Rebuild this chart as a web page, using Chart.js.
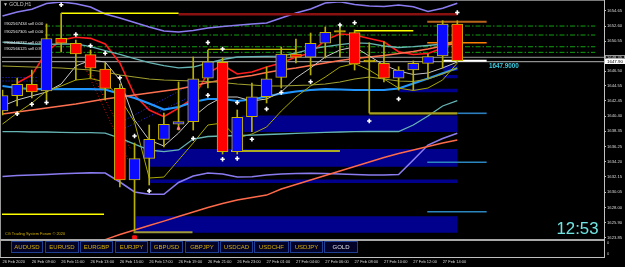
<!DOCTYPE html>
<html><head><meta charset="utf-8">
<script src="https://cdn.jsdelivr.net/npm/chart.js@4.4.1/dist/chart.umd.min.js"></script>
<style>
html,body{margin:0;padding:0;background:#000;overflow:hidden;}
#wrap{position:relative;width:625px;height:267px;background:#000;}
#c{position:absolute;left:0;top:0;}
.t{position:absolute;white-space:nowrap;transform-origin:0 0;transform:scale(0.5);font-family:"Liberation Sans",Arial,sans-serif;line-height:1;}
.ln{position:absolute;}
.btn{position:absolute;top:241px;height:12px;box-sizing:border-box;border:1px solid #1f3f93;background:#03032a;overflow:hidden;}
.btn div{position:absolute;left:0;top:0;width:200%;height:200%;transform-origin:0 0;transform:scale(0.5);display:flex;align-items:center;justify-content:center;font-family:"Liberation Sans",Arial,sans-serif;font-size:12px;color:#d8b000;}
</style></head>
<body><div id="wrap"><canvas id="c" width="625" height="267"></canvas></div>
<script>
// ---------- data (prices) ----------
const CANDLE_OPEN  = [1641.08,1643.16,1644.70,1643.80,1650.95,1650.27,1648.72,1646.78,1644.16,1631.72,1634.66,1637.24,1639.28,1639.63,1645.52,1647.69,1635.56,1640.31,1643.02,1645.65,1648.82,1648.37,1650.27,1651.78,1651.71,1647.79,1647.55,1645.52,1646.64,1647.55,1648.54,1652.89];
const CANDLE_HIGH  = [1643.93,1645.56,1646.64,1652.89,1654.34,1650.71,1649.36,1647.59,1644.74,1636.74,1639.18,1640.81,1645.02,1648.41,1649.36,1648.27,1641.22,1644.88,1647.05,1649.77,1650.85,1651.66,1652.48,1652.48,1652.07,1650.35,1650.48,1647.09,1647.87,1648.82,1653.33,1653.33];
const CANDLE_LOW   = [1640.54,1641.76,1642.85,1642.57,1649.09,1645.29,1645.56,1642.57,1630.77,1624.80,1631.04,1636.20,1638.50,1638.50,1644.20,1635.24,1635.24,1638.27,1642.17,1644.20,1647.59,1645.97,1648.27,1648.41,1646.64,1640.81,1645.02,1643.93,1643.93,1645.56,1646.92,1647.73];
const CANDLE_CLOSE = [1643.18,1644.70,1643.66,1650.92,1650.27,1648.82,1646.88,1644.16,1631.72,1634.61,1637.24,1639.28,1639.63,1645.46,1647.77,1635.56,1640.23,1643.02,1645.46,1648.82,1648.37,1650.27,1651.76,1651.78,1647.46,1647.79,1645.52,1646.64,1647.55,1648.45,1652.89,1647.90];

const X_TICK_IDX = [0,2,4,6,8,10,12,14,16,18,20,22,24,26,28,30];
const X_TICK_LABELS = ["26 Feb 2020","26 Feb 09:00","26 Feb 11:00","26 Feb 13:00","26 Feb 15:00","26 Feb 17:00","26 Feb 19:00","26 Feb 21:00","26 Feb 23:00","27 Feb 01:00","27 Feb 04:00","27 Feb 06:00","27 Feb 08:00","27 Feb 10:00","27 Feb 12:00","27 Feb 14:00"];
const Y_TICKS = [1654.65,1652.60,1650.55,1646.50,1644.55,1642.45,1640.40,1638.35,1636.25,1634.20,1632.15,1630.05,1628.00,1625.90,1623.85];

const BAND_UPPER = [1653.97,1654.51,1654.88,1655.67,1655.87,1655.64,1655.19,1654.24,1653.70,1653.09,1652.48,1651.94,1651.80,1652.00,1652.34,1652.55,1652.72,1652.89,1653.02,1653.70,1654.38,1654.92,1655.74,1655.91,1655.53,1655.33,1655.26,1655.46,1655.23,1654.58,1655.02,1655.69];
const BAND_LOWER = [1632.19,1632.33,1632.39,1632.46,1632.56,1632.63,1632.69,1632.67,1631.45,1630.09,1629.78,1629.78,1631.38,1632.26,1632.67,1632.53,1632.12,1632.17,1632.39,1632.53,1632.60,1632.63,1632.60,1632.53,1632.46,1632.39,1632.39,1632.46,1634.43,1636.46,1637.35,1638.05];
const ENV_UPPER = [1650.44,1650.31,1650.17,1650.13,1650.17,1650.20,1649.83,1649.29,1648.75,1648.20,1647.66,1647.23,1646.92,1647.05,1647.59,1648.07,1648.41,1648.45,1648.48,1648.52,1648.95,1649.49,1649.83,1650.10,1650.33,1650.27,1649.90,1649.70,1649.81,1649.97,1650.17,1650.44];
const ENV_LOWER = [1638.27,1638.27,1638.23,1638.23,1638.19,1638.16,1638.16,1638.09,1637.41,1636.60,1635.79,1635.56,1635.79,1637.28,1637.62,1637.69,1637.76,1637.82,1637.89,1637.96,1638.05,1638.12,1638.19,1638.23,1638.27,1638.30,1638.30,1638.30,1639.18,1640.40,1641.76,1642.48];
const MA_BLUE = [1644.47,1644.20,1644.06,1644.06,1644.06,1644.06,1644.06,1644.00,1643.39,1642.84,1642.10,1641.28,1641.62,1642.30,1642.71,1642.71,1642.44,1642.64,1643.05,1643.45,1643.73,1643.93,1644.06,1644.00,1643.93,1643.93,1643.93,1644.13,1644.81,1645.49,1646.20,1646.88];
const MA_RED = [null,1644.88,1645.97,1649.09,1650.71,1651.08,1650.94,1650.17,1647.59,1643.25,1641.21,1640.31,1641.49,1642.84,1646.24,1647.32,1646.10,1646.37,1647.05,1647.59,1648.41,1648.95,1650.71,1651.53,1651.39,1650.92,1650.48,1649.13,1648.75,1648.88,1649.63,1650.99];
const MA_SALMON = [1640.67,1640.94,1641.21,1641.49,1641.76,1642.03,1642.37,1642.71,1642.98,1643.25,1643.52,1643.79,1644.06,1644.47,1644.95,1645.29,1645.63,1645.90,1646.30,1646.64,1646.92,1647.25,1647.59,1647.93,1648.20,1648.41,1648.61,1648.88,1649.15,1649.49,1649.90,1650.31];
const TREND_LOW = [null,null,null,null,null,null,1623.03,1623.64,1624.32,1624.93,1625.54,1626.15,1626.77,1627.38,1627.99,1628.53,1629.00,1629.34,1629.68,1630.50,1631.11,1631.72,1632.33,1632.94,1633.55,1634.16,1634.77,1635.31,1635.79,1636.26,1636.74,1637.14];
const MA_GREY = [1641.76,1642.57,1643.12,1643.66,1644.74,1647.19,1648.00,1647.73,1645.29,1639.86,1637.14,1636.33,1638.09,1640.27,1641.89,1642.98,1642.98,1642.44,1642.71,1643.66,1645.56,1646.92,1648.41,1649.36,1649.77,1648.54,1647.32,1646.51,1646.03,1646.24,1646.92,1647.73];
const LINE_OLIVE_FAST = [1639.31,1640.81,1642.16,1643.79,1644.47,1645.29,1645.49,1645.02,1642.84,1639.59,1631.99,1632.12,1634.43,1636.74,1639.18,1639.45,1637.41,1637.96,1638.91,1641.08,1642.98,1644.47,1645.69,1647.05,1647.53,1646.64,1645.42,1644.20,1643.86,1644.20,1645.29,1647.59];
const LINE_OLIVE_SLOW = [1647.19,1647.12,1647.05,1646.98,1646.92,1646.78,1646.64,1646.37,1645.97,1645.69,1645.42,1645.29,1645.22,1645.15,1645.08,1644.95,1644.74,1644.61,1644.47,1644.47,1644.54,1644.61,1644.74,1645.02,1645.42,1645.69,1645.42,1645.15,1645.08,1645.42,1646.10,1646.92];

const FRACTAL_IDX   = [4,5,6,7,8,1,2,3,9,10,13,14,14,15,15,16,16,17,18,19,21,23,24,25,27,31];
const FRACTAL_PRICE = [1655.50,1651.46,1649.94,1648.91,1645.60,1640.71,1641.99,1642.23,1637.69,1630.23,1637.35,1643.21,1650.38,1649.49,1634.53,1642.23,1634.64,1637.24,1641.35,1643.59,1645.06,1652.75,1653.06,1639.72,1642.71,1654.45];
const ARROW_IDX = [12], ARROW_PRICE = [1638.73];
const MARK_IDX = [9], MARK_PRICE = [1623.90];

const LEVEL_PRICE = [1654.34,1654.20,1651.98,1649.43,1635.65,1627.06,1624.62,1640.77,1640.77,1653.20,1650.35,1634.12,1627.42,1647.90,1648.37,1647.77];
const LEVEL_FROM  = [4,12,24,14,15.58,-0.2,8.93,25,31,28.95,28.95,28.95,28.95,30.05,-1,-1];
const LEVEL_TO    = [12,31,28,20,23,6.92,12.95,31,33,33,33,33,33,33,42,42];

const ORDER_PRICE = [1652.61,1651.39,1649.80,1649.04];
const ORDER_FROM = 2.9, ORDER_TO = 40.4;
const ORDER_LABELS = ["#902567434 sell 0.00","#902567305 sell 0.00","#900446232 sell 0.9","#902566125 sell 0.9"];

const ZONE_TOP    = [1640.47,1635.92,1631.79,1626.79,1644.11,1647.25,1645.97];
const ZONE_BOTTOM = [1638.23,1633.52,1631.31,1624.57,1643.62,1646.51,1645.52];
const ZONE_FROM   = [16.3,10,10,9,27,30,30];
const ZONE_TO     = [31,31,31,31,31,31,31];

const DOT_X0 = [8.35,8.35,5.49,5.96,-0.2,-0.2], DOT_Y0 = [1639.86,1638.77,1647.59,1646.64,1645.63,1645.15];
const DOT_X1 = [12.6,12.6,8.56,8.76,2.4,2.4],  DOT_Y1 = [1644.38,1642.84,1634.43,1635.79,1645.63,1645.15];

const CURRENT_PRICE = "1647.9000", ASK_LABEL = "1648.35", BID_LABEL = "1647.90";
const SYMBOLS = ["AUDUSD","EURUSD","EURGBP","EURJPY","GBPUSD","GBPJPY","USDCAD","USDCHF","USDJPY","GOLD"];
const CLOCK = "12:53";

// ---------- styles ----------
const LEVEL_STYLE = [["#ffff00",1.4],["#8b1010",2.6],["#ffff00",1.4],["#b4b400",1.2],["#e6e600",1.4],["#ffff00",1.5],["#a09a3a",2],["#a8a020",2.2],["#2b7fc0",1.6],["#b8651b",2],["#ff8000",1.6],["#2b86c0",1.4],["#2b86c0",1.4],["#ffffff",2],["#9a9a9a",1],["#b4b4b4",1]];
const DOT_COLOR = ["#2a2aff","#2a2aff","#d01010","#d01010","#2a2aff","#2a2aff"];

const X_MIN = -0.034, X_MAX = 40.999;
const Y_MIN = 1623.714, Y_MAX = 1655.871;

const pts = arr => arr.map((v,i)=> v==null?null:{x:i,y:v}).filter(p=>p);
const ds = [];
ZONE_TOP.forEach((t,k)=>ds.push({type:'line',data:[{x:ZONE_FROM[k],y:t},{x:ZONE_TO[k],y:t}],borderColor:'rgba(0,0,0,0)',borderWidth:1,pointRadius:0,fill:{value:ZONE_BOTTOM[k]},backgroundColor:'#00008c',order:30}));
DOT_X0.forEach((x,k)=>ds.push({type:'line',data:[{x:x,y:DOT_Y0[k]},{x:DOT_X1[k],y:DOT_Y1[k]}],borderColor:DOT_COLOR[k],borderWidth:1,borderDash:[1,2],pointRadius:0,fill:false,order:26}));
LEVEL_PRICE.forEach((p,k)=>ds.push({type:'line',data:[{x:LEVEL_FROM[k],y:p},{x:LEVEL_TO[k],y:p}],borderColor:LEVEL_STYLE[k][0],borderWidth:LEVEL_STYLE[k][1],pointRadius:0,fill:false,order:k>=14?28:18}));
ORDER_PRICE.forEach(p=>ds.push({type:'line',data:[{x:ORDER_FROM,y:p},{x:ORDER_TO,y:p}],borderColor:'#12a012',borderWidth:1,borderDash:[5,2,1.5,2],pointRadius:0,fill:false,order:24}));
const lineDs = (arr,color,w)=>({type:'line',data:pts(arr),borderColor:color,borderWidth:w,pointRadius:0,fill:false,tension:0,order:20});
ds.push(lineDs(TREND_LOW,'#ff6a4a',1.4));
ds.push(lineDs(BAND_UPPER,'#8a7cf0',1.6));
ds.push(lineDs(BAND_LOWER,'#8a7cf0',1.6));
ds.push(lineDs(ENV_UPPER,'#66b4b4',1.3));
ds.push(lineDs(ENV_LOWER,'#66b4b4',1.3));
ds.push(lineDs(LINE_OLIVE_SLOW,'#a0a030',1.1));
ds.push(lineDs(LINE_OLIVE_FAST,'#a8a800',1));
ds.push(lineDs(MA_GREY,'#c8c8c8',1));
ds.push(lineDs(MA_SALMON,'#ff7050',1.4));
ds.push(lineDs(MA_BLUE,'#2296ff',2.2));
ds.push(lineDs(MA_RED,'#ff1c1c',1.6));
const idx = CANDLE_OPEN.map((_,i)=>i);
ds.push({type:'bar',data:idx.map(i=>({x:i,y:[CANDLE_LOW[i],CANDLE_HIGH[i]]})),backgroundColor:'#b8b000',barThickness:1,grouped:false,order:5});
ds.push({type:'bar',data:idx.map(i=>({x:i,y:[CANDLE_OPEN[i],CANDLE_CLOSE[i]]})),
  backgroundColor:idx.map(i=>CANDLE_CLOSE[i]>CANDLE_OPEN[i]?'#0a0aff':(CANDLE_CLOSE[i]<CANDLE_OPEN[i]?'#ff0000':'#c8b400')),
  borderColor:'#c8b400',borderWidth:1,borderSkipped:false,barThickness:11,minBarLength:1.5,grouped:false,order:4});
ds.push({type:'line',showLine:false,data:FRACTAL_IDX.map((x,k)=>({x:x,y:FRACTAL_PRICE[k]})),pointStyle:'cross',pointRadius:2.2,borderColor:'#ffffff',borderWidth:1.6,order:1});
ds.push({type:'line',showLine:false,data:ARROW_IDX.map((x,k)=>({x:x,y:ARROW_PRICE[k]})),pointStyle:'triangle',pointRadius:1.8,backgroundColor:'#ff8080',borderColor:'#ff8080',order:1});
ds.push({type:'line',showLine:false,data:MARK_IDX.map((x,k)=>({x:x,y:MARK_PRICE[k]})),pointStyle:'rect',pointRadius:2.6,backgroundColor:'#ff1010',borderColor:'#ff1010',order:1});

Chart.defaults.font.family = "'Liberation Sans', Arial, sans-serif";
new Chart(document.getElementById('c'), {
  type:'line',
  data:{datasets:ds},
  options:{
    responsive:false, animation:false, devicePixelRatio:1,
    layout:{autoPadding:false,padding:{left:2,top:2,right:0,bottom:0}},
    plugins:{legend:{display:false},tooltip:{enabled:false}},
    scales:{
      x:{type:'linear',min:X_MIN,max:X_MAX,offset:false,
         grid:{display:false,drawTicks:false},border:{display:false},
         afterBuildTicks:ax=>{ax.ticks=X_TICK_IDX.map(v=>({value:v}));},
         afterFit:ax=>{ax.height=28;ax.paddingLeft=0;ax.paddingRight=0;},
         ticks:{autoSkip:false,maxRotation:0,minRotation:0,align:'start',padding:20,color:'#d8d8d8',font:{size:4.0},
                callback:(v,i)=>X_TICK_LABELS[i]}},
      y:{position:'right',min:Y_MIN,max:Y_MAX,
         grid:{drawOnChartArea:false,drawTicks:true,tickLength:2,color:'#c0c0c0'},border:{display:true,color:'#c0c0c0'},
         afterBuildTicks:ax=>{ax.ticks=Y_TICKS.map(v=>({value:v}));},
         afterFit:ax=>{ax.width=21;ax.paddingTop=0;ax.paddingBottom=0;},
         ticks:{autoSkip:false,padding:1,color:'#d8d8d8',font:{size:4.2},callback:v=>Number(v).toFixed(2)}}
    }
  }
});

// ---------- overlays: frame, texts, buttons ----------
const wrap = document.getElementById('wrap');
function box(l,t,w,h,bg){const d=document.createElement('div');d.className='ln';Object.assign(d.style,{left:l+'px',top:t+'px',width:w+'px',height:h+'px',background:bg});wrap.appendChild(d);return d;}
function txt(s,x,cy,size,color,extra){const d=document.createElement('div');d.className='t';d.textContent=s;
  Object.assign(d.style,{left:x+'px',top:(cy-size/2)+'px',fontSize:(size*2)+'px',color:color},extra||{});wrap.appendChild(d);return d;}
box(0,0,604,1,'#7a7a7a');
box(0,0,1,257,'#9a9a9a');
box(604,0,1,257,'#c0c0c0');
box(0,239,604,2,'#a8a8a8');
box(0,257,605,1,'#c0c0c0');
txt('\u25BC GOLD,H1',2.5,4.8,5,'#c8c8c8');
ORDER_LABELS.forEach((s,k)=>txt(s,4,[24.3,32.5,43.5,49.5][k],4.1,'#e8e8e8'));
txt(CURRENT_PRICE,489,66,6.3,'#3ccbe0',{fontWeight:'bold'});
txt('CG Trading System Forum \u00A9 2020',5,234.3,3.9,'#d4b000');
txt('0',607,243.2,4,'#c8c8c8');
txt('0',607,254,4,'#c8c8c8');
const ask = box(605,54.5,20,4,'#1a1a1a'); ask.style.border='0.5px solid #9a9a9a'; ask.style.boxSizing='border-box';
txt(ASK_LABEL,607,56.6,4.2,'#d0d0d0');
box(605,58.5,20,5,'#ffffff');
txt(BID_LABEL,607,61,4.4,'#000000');
const clk=document.createElement('div');clk.textContent=CLOCK;
Object.assign(clk.style,{position:'absolute',left:'556.5px',top:'220.8px',fontSize:'16.8px',lineHeight:'16.8px',color:'#70e4e4',fontFamily:'"Liberation Sans",Arial,sans-serif'});
wrap.appendChild(clk);
const BTN_L=[11,45,80,115,150,185,220,254,290,324], BTN_R=[43,79,113,148,183,219,253,289,323,358];
SYMBOLS.forEach((s,k)=>{const b=document.createElement('div');b.className='btn';b.style.left=BTN_L[k]+'px';b.style.width=(BTN_R[k]-BTN_L[k])+'px';
  const i=document.createElement('div');i.textContent=s;if(s==='GOLD')i.style.color='#e0e0e0';b.appendChild(i);wrap.appendChild(b);});
</script></body></html>
